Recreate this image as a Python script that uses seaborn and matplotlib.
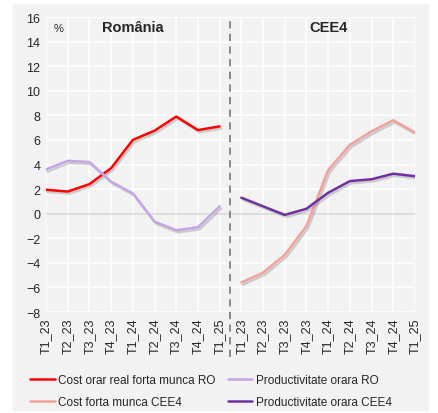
import numpy as np
import pandas as pd
import matplotlib
matplotlib.use("Agg")
import matplotlib.pyplot as plt
import matplotlib.patheffects as pe
from matplotlib.patches import Rectangle
from matplotlib.lines import Line2D
import seaborn as sns

# data
quarters = ["T1_23", "T2_23", "T3_23", "T4_23", "T1_24", "T2_24", "T3_24", "T4_24", "T1_25"]
cost_ro = [1.95, 1.8, 2.4, 3.7, 6.0, 6.75, 7.9, 6.8, 7.1]
prod_ro = [3.6, 4.3, 4.2, 2.6, 1.65, -0.65, -1.35, -1.1, 0.6]
cost_cee4 = [-5.6, -4.8, -3.35, -1.0, 3.55, 5.6, 6.7, 7.6, 6.6]
prod_cee4 = [1.3, 0.6, -0.1, 0.4, 1.7, 2.65, 2.8, 3.25, 3.05]

names = ["Cost orar real forta munca RO", "Productivitate orara RO",
         "Cost forta munca CEE4", "Productivitate orara CEE4"]
colors = ["#ff0000", "#c4a6e6", "#f4a19c", "#7030a0"]

n = len(quarters)
rows = []
for q, (a, b) in enumerate(zip(cost_ro, prod_ro)):
    rows.append((q, a, names[0]))
    rows.append((q, b, names[1]))
for q, (a, b) in enumerate(zip(cost_cee4, prod_cee4)):
    rows.append((q + n, a, names[2]))
    rows.append((q + n, b, names[3]))
df = pd.DataFrame(rows, columns=["pos", "val", "serie"])

sns.set_style("whitegrid")
plt.rcParams["font.family"] = ["Liberation Sans", "DejaVu Sans"]

fig = plt.figure(figsize=(4.39, 4.14), dpi=100, facecolor="white")
fig.patches.append(Rectangle((13/439, 1-411/414), 415/439, 406/414,
                             transform=fig.transFigure, color="#f2f2f2", zorder=-5))
ax = fig.add_axes([46/439, 1-313/414, 369/439, 295/414])
ax.set_facecolor("#f2f2f2")

sns.lineplot(data=df, x="pos", y="val", hue="serie", hue_order=names,
             palette=colors, linewidth=1.8, ax=ax, legend=False)

for ln in ax.lines:
    ln.set_path_effects([pe.SimpleLineShadow(offset=(1.2, -1.5), shadow_color="gray", alpha=0.35),
                         pe.Normal()])

ax.set_xlim(0, 2*n - 1)
ax.set_ylim(-8, 16)
ax.set_yticks(range(-8, 17, 2))
ax.set_xticks(range(2*n))
ax.set_xticklabels(quarters + quarters, rotation=90)
ax.tick_params(axis="both", labelsize=9, colors="#262626", length=0, pad=4)
ax.grid(color="white", linewidth=1.1)
for s in ax.spines.values():
    s.set_visible(False)
ax.set_xlabel("")
ax.set_ylabel("")
ax.axhline(0, color="#d9d9d9", linewidth=1.2, zorder=1)
ax.axvline(n - 0.5, ymin=-0.153, ymax=1, color="#808080", linestyle=(0, (4, 3)),
           linewidth=1.3, clip_on=False)

ax.text(0.35, 15.1, "%", fontsize=8, color="#262626", va="center")
ax.text(4, 15.2, "România", fontsize=10.5, fontweight="bold", ha="center", va="center")
ax.text(13, 15.2, "CEE4", fontsize=10.5, fontweight="bold", ha="center", va="center")

order = [0, 2, 1, 3]
handles = [Line2D([], [], color=colors[i], linewidth=1.8) for i in order]
fig.legend(handles, [names[i] for i in order], ncol=2, frameon=False,
           fontsize=8.5, loc="center", bbox_to_anchor=(211/439, 1-392/414),
           handlelength=2.1, handletextpad=0.3, columnspacing=1.0, labelspacing=0.85)

fig.savefig("out.png", dpi=100, facecolor="white")
